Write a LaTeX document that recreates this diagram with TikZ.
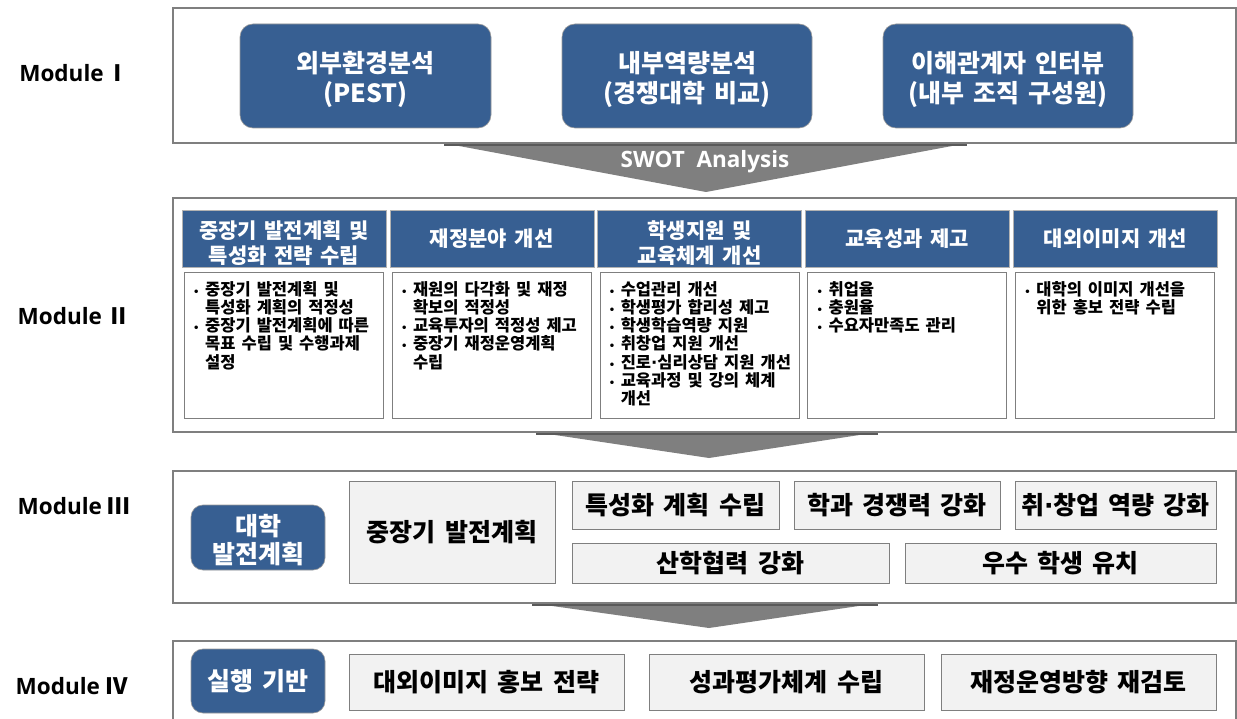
\documentclass[tikz,border=0pt]{standalone}
\usepackage{fontspec}
\newfontfamily\kr{Noto Sans CJK KR}[WordSpace=1.6]
\newfontfamily\lat{Open Sans}
\newfontfamily\sym{DejaVu Sans}
\definecolor{blu}{HTML}{375F92}
\definecolor{bdr}{HTML}{7F7F7F}
\definecolor{lgray}{HTML}{F2F2F2}
\definecolor{arr}{HTML}{7F7F7F}
\definecolor{arrtop}{HTML}{5A5A5A}
\newcommand\bul{\makebox[12pt][l]{{\sym\bfseries\fontsize{10}{10}\selectfont •}}}
\newcommand\cnt{\hspace*{12pt}}
\newcommand\md{{\sym\bfseries ·}}
\begin{document}
\begin{tikzpicture}[x=1pt,y=-1pt,
 modbox/.style={draw=bdr,line width=1.2pt,fill=white,inner sep=0pt,minimum width=1063pt},
 rbox/.style={fill=blu,draw=bdr!80,line width=0.6pt,rounded corners=13pt,text=white,inner sep=0pt,align=center,font=\kr\bfseries\fontsize{25}{30}\selectfont},
 hdr/.style={fill=blu,draw=bdr!60,line width=0.6pt,text=white,inner sep=0pt,align=center,font=\kr\bfseries\fontsize{21}{24.5}\selectfont,minimum width=204pt,minimum height=57pt},
 bodybox/.style={draw=bdr,line width=1pt,fill=white,minimum width=199pt,minimum height=145pt,inner sep=0pt},
 bodytext/.style={anchor=north west,inner sep=0pt,align=left,font=\kr\bfseries\fontsize{16.5}{18.2}\selectfont},
 gbox/.style={fill=lgray,draw=bdr,line width=1pt,inner sep=0pt,align=center,font=\kr\bfseries\fontsize{25}{30}\selectfont},
 modlabel/.style={font=\lat\bfseries\fontsize{22.5}{22.5}\selectfont,inner sep=0pt},
 chev/.style={fill=arr},
 chevtop/.style={draw=arrtop,line width=2.5pt},
]
\useasboundingbox (0,0) rectangle (1237,719);
\fill[white] (0,0) rectangle (1237,719);

% chevrons
\fill[chev] (443,143) -- (968,143) -- (706,192) -- cycle;
\draw[chevtop] (444,144.5) -- (967,144.5);
\fill[chev] (535,432) -- (879,432) -- (709,458) -- cycle;
\draw[chevtop] (536,433.5) -- (878,433.5);
\fill[chev] (531,603) -- (879,603) -- (709,628) -- cycle;
\draw[chevtop] (532,604.5) -- (878,604.5);
\node[font=\lat\bfseries\fontsize{22.5}{22.5}\selectfont,text=white,anchor=base,inner sep=0pt] (swot) at (705,168) {SWOT\ \ Analysis};

% module labels
\node[modlabel] (l1) at (74,73) {Module\kern2.5pt{\kr Ⅰ}};
\node[modlabel] (l2) at (74,316) {Module {\kr Ⅱ}};
\node[modlabel] (l3) at (74,506) {Module {\kr Ⅲ}};
\node[modlabel] (l4) at (72,686) {Module {\kr Ⅳ}};

% Module I
\node[modbox,minimum height=135pt] (m1) at (704.5,75.5) {};
\node[rbox,minimum width=251pt,minimum height=104pt] (a1) at (365.5,76) {\rule{0pt}{28pt}외부환경분석\\(PEST)};
\node[rbox,minimum width=250pt,minimum height=104pt] (a2) at (687,76) {\rule{0pt}{28pt}내부역량분석\\(경쟁대학 비교)};
\node[rbox,minimum width=250pt,minimum height=104pt] (a3) at (1008,76) {\rule{0pt}{28pt}이해관계자 인터뷰\\(내부 조직 구성원)};

% Module II
\node[modbox,minimum height=234pt] (m2) at (704.5,315) {};
\node[hdr] (h1) at (284,238.5) {\rule{0pt}{27pt}중장기 발전계획 및\\특성화 전략 수립};
\node[hdr] (h2) at (491.8,238.5) {재정분야 개선};
\node[hdr] (h3) at (699.6,238.5) {\rule{0pt}{27pt}학생지원 및\\교육체계 개선};
\node[hdr] (h4) at (907.4,238.5) {교육성과 제고};
\node[hdr] (h5) at (1115.2,238.5) {대외이미지 개선};
\node[bodybox] (b1) at (284,345.5) {};
\node[bodybox] (b2) at (491.8,345.5) {};
\node[bodybox] (b3) at (699.6,345.5) {};
\node[bodybox] (b4) at (907.4,345.5) {};
\node[bodybox] (b5) at (1115.2,345.5) {};
\node[bodytext] (t1) at (193,280) {\rule{0pt}{15pt}\bul 중장기 발전계획 및\\\cnt 특성화 계획의 적정성\\\bul 중장기 발전계획에 따른\\\cnt 목표 수립 및 수행과제\\\cnt 설정};
\node[bodytext] (t2) at (400.8,280) {\rule{0pt}{15pt}\bul 재원의 다각화 및 재정\\\cnt 확보의 적정성\\\bul 교육투자의 적정성 제고\\\bul 중장기 재정운영계획\\\cnt 수립};
\node[bodytext] (t3) at (608.6,280) {\rule{0pt}{15pt}\bul 수업관리 개선\\\bul 학생평가 합리성 제고\\\bul 학생학습역량 지원\\\bul 취창업 지원 개선\\\bul 진로\md 심리상담 지원 개선\\\bul 교육과정 및 강의 체계\\\cnt 개선};
\node[bodytext] (t4) at (816.4,280) {\rule{0pt}{15pt}\bul 취업율\\\bul 충원율\\\bul 수요자만족도 관리};
\node[bodytext] (t5) at (1024.2,280) {\rule{0pt}{15pt}\bul 대학의 이미지 개선을\\\cnt 위한 홍보 전략 수립};

% Module III
\node[modbox,minimum height=132pt] (m3) at (704.5,537) {};
\node[rbox,rounded corners=12pt,minimum width=134pt,minimum height=65pt,font=\kr\bfseries\fontsize{25}{28}\selectfont] (c0) at (258,537.5) {\rule{0pt}{26pt}대학\\발전계획};
\node[gbox,minimum width=206pt,minimum height=102pt] (c1) at (452,532) {중장기 발전계획};
\node[gbox,minimum width=207pt,minimum height=48pt] (c2) at (675.5,505) {특성화 계획 수립};
\node[gbox,minimum width=206pt,minimum height=48pt] (c3) at (897,505) {학과 경쟁력 강화};
\node[gbox,minimum width=201pt,minimum height=48pt] (c4) at (1115.5,505) {취\md 창업 역량 강화};
\node[gbox,minimum width=317pt,minimum height=40pt] (c5) at (730.5,563) {산학협력 강화};
\node[gbox,minimum width=311pt,minimum height=40pt] (c6) at (1060.5,563) {우수 학생 유치};

% Module IV
\node[modbox,minimum height=80pt] (m4) at (704.5,681) {};
\node[rbox,rounded corners=12pt,minimum width=134pt,minimum height=64pt] (d0) at (258,681) {실행 기반};
\node[gbox,minimum width=275pt,minimum height=56pt] (d1) at (486.5,682) {대외이미지 홍보 전략};
\node[gbox,minimum width=275pt,minimum height=56pt] (d2) at (786.5,682) {성과평가체계 수립};
\node[gbox,minimum width=275pt,minimum height=56pt] (d3) at (1078.5,682) {재정운영방향 재검토};
\end{tikzpicture}
\end{document}
